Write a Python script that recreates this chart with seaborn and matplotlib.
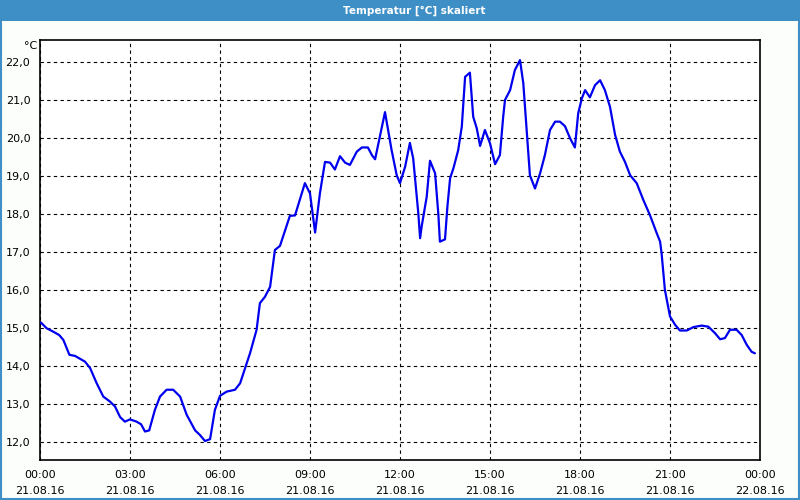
import pandas as pd
import numpy as np
import matplotlib
matplotlib.use("Agg")
import matplotlib.pyplot as plt
import matplotlib.ticker as mticker
import seaborn as sns

# Zeitpunkte in Stunden ab 21.08.16 00:00, Temperatur in °C (je 10 Werte pro Zeile)
stunden = [0.03, 0.22, 0.44, 0.64, 0.78, 0.98, 1.17, 1.50, 1.67, 1.89,
           2.11, 2.33, 2.50, 2.67, 2.83, 3.00, 3.22, 3.37, 3.50, 3.64,
           3.83, 4.00, 4.22, 4.44, 4.67, 4.89, 5.17, 5.33, 5.50, 5.67,
           5.83, 6.00, 6.22, 6.50, 6.67, 7.00, 7.22, 7.33, 7.50, 7.67,
           7.83, 8.00, 8.33, 8.50, 8.83, 9.00, 9.17, 9.33, 9.50, 9.67,
           9.83, 10.00, 10.17, 10.33, 10.56, 10.73, 10.93, 11.07, 11.17, 11.50,
           11.72, 11.89, 12.00, 12.17, 12.33, 12.44, 12.61, 12.67, 12.72, 12.89,
           13.00, 13.17, 13.28, 13.33, 13.50, 13.58, 13.67, 13.78, 13.94, 14.06,
           14.17, 14.33, 14.44, 14.56, 14.67, 14.83, 15.00, 15.17, 15.33, 15.44,
           15.50, 15.67, 15.83, 16.00, 16.11, 16.24, 16.33, 16.50, 16.67, 16.83,
           17.00, 17.17, 17.33, 17.50, 17.67, 17.83, 17.94, 18.06, 18.17, 18.33,
           18.50, 18.67, 18.83, 19.00, 19.17, 19.33, 19.50, 19.67, 19.89, 20.11,
           20.33, 20.56, 20.67, 20.72, 20.83, 21.00, 21.17, 21.33, 21.56, 21.78,
           22.06, 22.28, 22.50, 22.67, 22.83, 23.00, 23.22, 23.39, 23.56, 23.72,
           23.83]
temperatur = [15.15, 15.00, 14.91, 14.82, 14.69, 14.30, 14.27, 14.12, 13.95, 13.55,
              13.20, 13.07, 12.94, 12.66, 12.54, 12.60, 12.54, 12.47, 12.28, 12.31,
              12.85, 13.20, 13.38, 13.38, 13.20, 12.72, 12.31, 12.19, 12.03, 12.08,
              12.85, 13.22, 13.33, 13.38, 13.55, 14.34, 14.96, 15.66, 15.83, 16.09,
              17.06, 17.17, 17.96, 17.97, 18.82, 18.55, 17.52, 18.55, 19.38, 19.36,
              19.18, 19.53, 19.36, 19.30, 19.65, 19.76, 19.76, 19.55, 19.45, 20.69,
              19.69, 19.03, 18.82, 19.25, 19.88, 19.47, 18.03, 17.37, 17.67, 18.46,
              19.41, 19.08, 17.98, 17.28, 17.34, 18.20, 18.95, 19.21, 19.69, 20.31,
              21.62, 21.73, 20.57, 20.26, 19.80, 20.22, 19.87, 19.32, 19.56, 20.57,
              21.01, 21.27, 21.80, 22.06, 21.45, 20.04, 19.03, 18.68, 19.08, 19.56,
              20.22, 20.44, 20.44, 20.32, 20.00, 19.76, 20.66, 21.05, 21.27, 21.08,
              21.40, 21.53, 21.27, 20.83, 20.09, 19.65, 19.38, 19.03, 18.82, 18.38,
              17.98, 17.50, 17.28, 16.97, 16.01, 15.31, 15.09, 14.94, 14.94, 15.03,
              15.07, 15.04, 14.87, 14.71, 14.74, 14.96, 14.96, 14.82, 14.56, 14.38,
              14.34]

x_ticks = [0, 3, 6, 9, 12, 15, 18, 21, 24]
x_labels = ["00:00\n21.08.16", "03:00\n21.08.16", "06:00\n21.08.16",
            "09:00\n21.08.16", "12:00\n21.08.16", "15:00\n21.08.16",
            "18:00\n21.08.16", "21:00\n21.08.16", "00:00\n22.08.16"]
y_ticks = [12, 13, 14, 15, 16, 17, 18, 19, 20, 21, 22]

df = pd.DataFrame({"Stunde": stunden, "Temperatur": temperatur})

sns.set_style("white")
plt.rcParams['font.family'] = ['DejaVu Sans']

blau = "#3d8fc6"
fig = plt.figure(figsize=(8, 5), dpi=100, facecolor="#fcfefc")
ax = fig.add_axes([0.05, 0.08, 0.9, 0.84])
ax.set_facecolor("white")

sns.lineplot(data=df, x="Stunde", y="Temperatur", ax=ax, color="#0000ee",
             linewidth=1.6, zorder=3)

ax.set_xlim(0, 24)
ax.set_ylim(11.53, 22.59)
ax.set_xticks(x_ticks)
ax.set_xticklabels(x_labels, fontsize=8, linespacing=1.65, color="black")
ax.xaxis.set_minor_locator(mticker.MultipleLocator(1))
ax.set_yticks(y_ticks)
ax.set_yticklabels([f"{v:.1f}".replace(".", ",") for v in y_ticks], fontsize=8,
                   color="black")
ax.tick_params(axis="x", which="major", length=5, width=0.8, color="black", pad=2.5)
ax.tick_params(axis="x", which="minor", length=4, width=0.8, color="black")
ax.tick_params(axis="y", length=5, width=0.8, color="black", pad=2)
ax.grid(True, which="major", color="black", linestyle=(0, (3, 3)), linewidth=0.8)
for s in ax.spines.values():
    s.set_color("black")
    s.set_linewidth(1.2)
ax.set_xlabel("")
ax.set_ylabel("")

ax.text(-0.004, 0.986, "°C", transform=ax.transAxes, ha="right", va="center",
        fontsize=8, color="black")

# Titelleiste und Rahmen
fig.patches.append(plt.Rectangle((0, 0.958), 1, 0.042, transform=fig.transFigure,
                                 facecolor=blau, edgecolor="none", zorder=0))
fig.patches.append(plt.Rectangle((0.001, 0.002), 0.998, 0.996, transform=fig.transFigure,
                                 facecolor="none", edgecolor=blau, linewidth=1.5, zorder=1))
fig.text(0.518, 0.979, "Temperatur [°C] skaliert", ha="center", va="center",
         color="white", fontsize=7.5, fontweight="bold")

fig.savefig("out.png", dpi=100, facecolor=fig.get_facecolor())
